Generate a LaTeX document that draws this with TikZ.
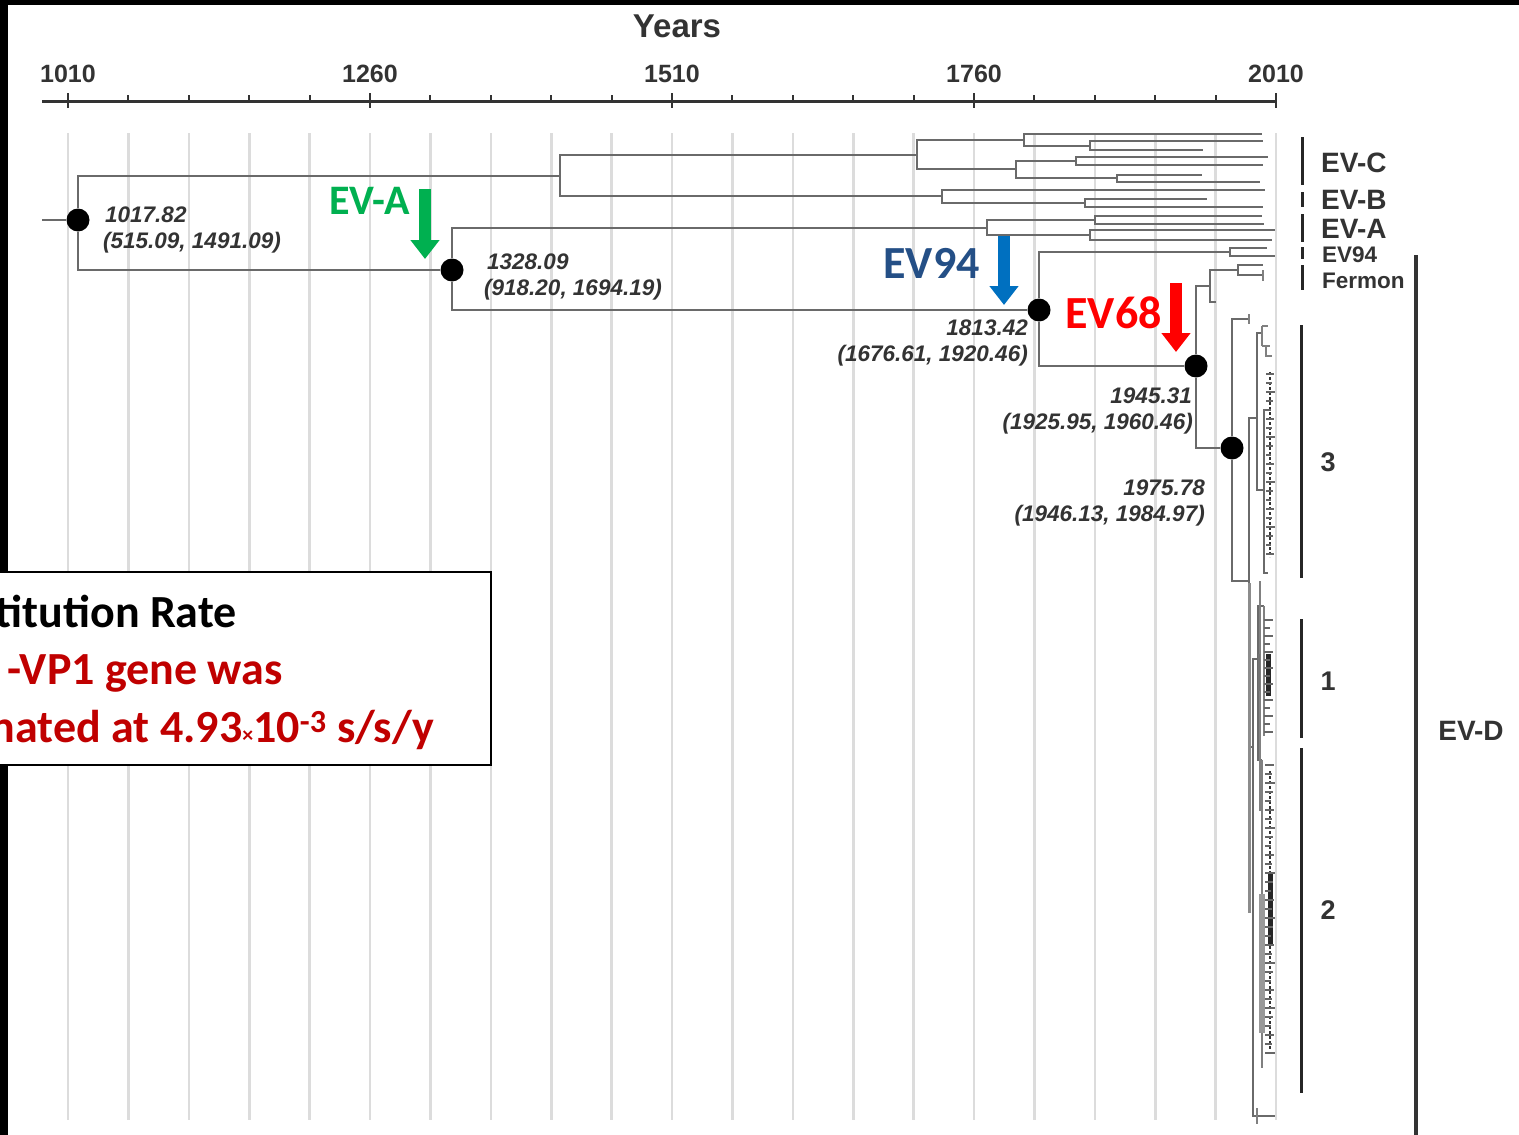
\documentclass[tikz,border=0pt]{standalone}
\usepackage{fontspec}
\setmainfont{Liberation Sans}
\newfontfamily\cali{Carlito}
\usetikzlibrary{arrows.meta}
\definecolor{gridgray}{HTML}{DCDCDC}
\definecolor{treegray}{HTML}{6A6A6A}
\definecolor{ink}{HTML}{333333}
\definecolor{evgreen}{HTML}{00B050}
\definecolor{evblue}{HTML}{0070C0}
\definecolor{evnavy}{HTML}{244F86}
\definecolor{evred}{HTML}{FF0000}
\definecolor{boxred}{HTML}{C00000}
\tikzset{
  gridline/.style={draw=gridgray, line width=2.6pt},
  axisline/.style={draw=ink, line width=3pt},
  minortick/.style={draw=ink, line width=2pt},
  majortick/.style={draw=ink, line width=2.6pt},
  axislbl/.style={font=\bfseries\fontsize{25}{28}\selectfont, text=ink, inner sep=0pt, anchor=base},
  br/.style={draw=treegray, line width=1.7pt},
  thin/.style={draw=treegray!85, line width=1.3pt},
  band/.style={draw=black!45, line width=3pt},
  dotcol/.style={draw=black!80, line width=2.4pt, dash pattern=on 3pt off 2pt},
  tickleaf/.style={draw=black!60, line width=1.1pt},
  dot/.style={circle, fill=black, minimum size=23pt, inner sep=0pt},
  datelbl/.style={font=\bfseries\itshape\fontsize{22.5}{25}\selectfont, text=ink, inner sep=0pt},
  cladebar/.style={draw=black!85, line width=3pt},
  cladelbl/.style={font=\bfseries\fontsize{28}{30}\selectfont, text=ink, inner sep=0pt, anchor=base west},
  smallclade/.style={font=\bfseries\fontsize{22.5}{25}\selectfont, text=ink, inner sep=0pt, anchor=base west},
  numlbl/.style={font=\bfseries\fontsize{27}{30}\selectfont, text=ink, inner sep=0pt, anchor=base},
  evlbl/.style={font=\cali\bfseries\fontsize{46}{50}\selectfont, inner sep=0pt, anchor=base east},
  blockarrow/.style={line width=12pt, -{Triangle[length=19pt,width=28pt]}},
  boxtxt/.style={font=\cali\bfseries\fontsize{46}{50}\selectfont, inner sep=0pt, anchor=base east}
}
\begin{document}
\begin{tikzpicture}[x=1pt,y=-1pt]
\useasboundingbox (0,0) rectangle (1519,1135);
\clip (0,0) rectangle (1519,1135);
\fill[white] (0,0) rectangle (1519,1135);
% black frame remnants
\fill[black] (0,0) rectangle (1519,5);
\fill[black] (0,0) rectangle (8,1135);

% grid lines
\foreach \k in {0,...,20} \draw[gridline] ({68+60.4*\k},133) -- ({68+60.4*\k},1120);

% time axis
\node[font=\bfseries\fontsize{33}{36}\selectfont, text=ink, inner sep=0pt, anchor=base] (years) at (677,37) {Years};
\coordinate (axL) at (42,101);
\coordinate (axR) at (1276,101);
\draw[axisline] (axL) -- (axR);
\foreach \k in {0,...,20} \draw[minortick] ({68+60.4*\k},95) -- ({68+60.4*\k},102);
\foreach \k/\lab in {0/1010,5/1260,10/1510,15/1760,20/2010} {
  \draw[majortick] ({68+60.4*\k},93) -- ({68+60.4*\k},108);
  \node[axislbl] (ax\k) at ({68+60.4*\k},82) {\lab};
}

% ---------- tree nodes ----------
\node[dot] (root)  at (78,220) {};
\node[dot] (n1328) at (452,270) {};
\node[dot] (n1813) at (1039,310) {};
\node[dot] (n1945) at (1196,366) {};
\node[dot] (n1975) at (1232,448) {};

\foreach \n/\x/\y in {
  stem/42/220, cAB/560/176, cC/917/155, cB/942/196,
  cC1/1024/140, cC2/1016/169, cC1b/1090/146, cC2a/1076/161, cC2b/1117/178,
  cB2/1085/203, cA/987/228, cA1/1095/220, cA2/1090/235,
  cE94/1230/252, cF/1210/286, cF1/1238/270,
  l1/1262/134, l2/1263/141, l3/1203/150, l4/1268/157, l5/1263/165,
  l6/1202/175, l7/1260/182, l8/1265/190, l9/1207/199, l10/1263/207,
  l11/1262/216, l12/1264/224, l13/1275/230, l14/1272/240,
  l15/1267/248, l16/1275/256, l17/1216/302, l18/1263/265, l19/1263/275,
  l20/1249/319, dEV/1249/581, d3/1257/418, d3a/1262/333, d3b/1264/490,
  d3c/1269/410, d3d/1268/573,
  d12/1253/747, d1/1258/659, d2/1275/1116, d1a/1264/606, d1b/1262/760}
  \coordinate (\n) at (\x,\y);

\draw[br] (stem) -- (root);
\foreach \a/\b in {
  root/cAB, root/n1328, cAB/cC, cAB/cB, cC/cC1, cC/cC2, cC1/l1, cC1/cC1b,
  cC1b/l2, cC1b/l3, cC2/cC2a, cC2/cC2b, cC2a/l4, cC2a/l5, cC2b/l6, cC2b/l7,
  cB/l8, cB/cB2, cB2/l9, cB2/l10, n1328/cA, n1328/n1813, cA/cA1, cA/cA2,
  cA1/l11, cA1/l12, cA2/l13, cA2/l14, n1813/cE94, n1813/n1945, cE94/l15,
  cE94/l16, n1945/cF, n1945/n1975, cF/cF1, cF/l17, cF1/l18, cF1/l19,
  n1975/l20, n1975/dEV, dEV/d3, dEV/d12, d3/d3a, d3/d3b, d3b/d3c, d3b/d3d,
  d12/d1, d12/d2, d1/d1a, d1/d1b}
  \draw[br] (\a) |- (\b);

% fine structure of EV-D (drawn directly)
\draw[thin] (1263,270) -- (1263,281);
\draw[thin] (1249,314) -- (1249,324);
\draw[thin] (1262,326) -- (1262,346) (1262,326) -- (1268,326) (1262,346) -- (1270,346)
  (1266,346) -- (1266,356) -- (1272,356);
\draw[dotcol] (1270,372) -- (1270,557);
\foreach \y [count=\i] in {374,383,...,560} {
  \pgfmathsetmacro\xe{1271+mod(\i*3,5)}
  \draw[tickleaf] (1266,\y) -- (\xe,\y);
}
% clade 1 / 2 region
\draw[band] (1249,583) -- (1249,913);
\draw[thin] (1260,581) -- (1260,811);
\draw[draw=black!55, line width=2.5pt] (1259,654) -- (1259,691);
\draw[thin] (1264,606) -- (1264,736);
\fill[black!85] (1266,654) rectangle (1271,696);
\foreach \y [count=\i] in {620,628,...,735} {
  \pgfmathsetmacro\xe{1270+mod(\i*3,6)}
  \draw[tickleaf] (1264,\y) -- (\xe,\y);
}
\draw[thin] (1262,760) -- (1262,1068);
\draw[draw=black!40, line width=6pt] (1262,894) -- (1262,1033);
\draw[dotcol] (1270,771) -- (1270,1049);
\fill[black!85] (1268,873) rectangle (1273,945);
\foreach \y [count=\i] in {765,774,...,1060} {
  \pgfmathsetmacro\xe{1271+mod(\i*3,5)}
  \draw[tickleaf] (1265,\y) -- (\xe,\y);
}
\draw[thin] (1257,1108) -- (1257,1124);

% ---------- date labels ----------
\node[datelbl, anchor=base west] (t1a) at (105,222) {1017.82};
\node[datelbl, anchor=base west] (t1b) at (103,248) {(515.09, 1491.09)};
\node[datelbl, anchor=base west] (t2a) at (487,269) {1328.09};
\node[datelbl, anchor=base west] (t2b) at (484,295) {(918.20, 1694.19)};
\node[datelbl, anchor=base east] (t3a) at (1028,335) {1813.42};
\node[datelbl, anchor=base east] (t3b) at (1028,361) {(1676.61, 1920.46)};
\node[datelbl, anchor=base east] (t4a) at (1192,403) {1945.31};
\node[datelbl, anchor=base east] (t4b) at (1193,429) {(1925.95, 1960.46)};
\node[datelbl, anchor=base east] (t5a) at (1205,495) {1975.78};
\node[datelbl, anchor=base east] (t5b) at (1205,521) {(1946.13, 1984.97)};

% ---------- clade bars and labels ----------
\foreach \n/\ya/\yb/\xx in {bC/137/185/1302, bB/192/207/1302, bA/214/242/1302,
  b94/247/259/1302, bFe/265/290/1302, b3/325/578/1301, b1/619/738/1301,
  b2/748/1093/1301} {
  \coordinate (\n s) at (\xx,\ya);
  \coordinate (\n e) at (\xx,\yb);
  \draw[cladebar] (\n s) -- (\n e);
}
\coordinate (bDs) at (1416,255);
\coordinate (bDe) at (1416,1135);
\draw[draw=ink, line width=3.5pt] (bDs) -- (bDe);
\node[cladelbl] (cl1) at (1321,172) {EV-C};
\node[cladelbl] (cl2) at (1321,209) {EV-B};
\node[cladelbl] (cl3) at (1321,238) {EV-A};
\node[smallclade] (cl4) at (1322,262) {EV94};
\node[smallclade] (cl5) at (1322,288) {Fermon};
\node[numlbl] (cl6) at (1328,471) {3};
\node[numlbl] (cl7) at (1328,690) {1};
\node[numlbl] (cl8) at (1328,919) {2};
\node[cladelbl, anchor=base] (cl9) at (1471,740) {EV-D};

% ---------- coloured arrows and labels ----------
\node[evlbl, text=evgreen, font=\cali\bfseries\fontsize{42}{46}\selectfont] (lEVA) at (410,214) {EV-A};
\node[evlbl, text=evnavy] (lEV94) at (980,278) {EV94};
\node[evlbl, text=evred] (lEV68) at (1162,328) {EV68};
\coordinate (aAs) at (425,189);
\coordinate (aAe) at (425,259);
\coordinate (aBs) at (1004,236);
\coordinate (aBe) at (1004,305);
\coordinate (aRs) at (1176,283);
\coordinate (aRe) at (1176,352);
\draw[blockarrow, evgreen] (aAs) -- (aAe);
\draw[blockarrow, evblue] (aBs) -- (aBe);
\draw[blockarrow, evred] (aRs) -- (aRe);

% ---------- rate box ----------
\draw[fill=white, draw=black, line width=2pt] (-5,572) rectangle (491,765);
\node[boxtxt, text=black] (bx1) at (237,627) {titution Rate};
\node[boxtxt, text=boxred] (bx2) at (283,684) {-VP1 gene was};
\node[boxtxt, text=boxred] (bx3) at (434,742) {nated at 4.93{\fontsize{22}{22}\selectfont ×}10\textsuperscript{-3} s/s/y};
\end{tikzpicture}
\end{document}
